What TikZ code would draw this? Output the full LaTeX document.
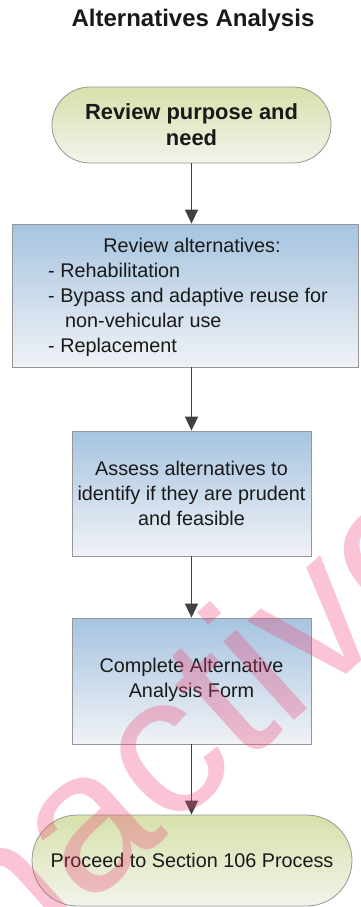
\documentclass[tikz,border=0pt]{standalone}
\usepackage{fontspec}
\setmainfont{Liberation Sans}
\usetikzlibrary{arrows.meta,shapes.misc}
\definecolor{bordergray}{RGB}{150,150,150}
\definecolor{arrowgray}{RGB}{64,64,64}
\definecolor{termtop}{RGB}{214,225,170}
\definecolor{termbot}{RGB}{242,244,236}
\definecolor{boxtop}{RGB}{166,196,224}
\definecolor{boxbot}{RGB}{240,242,246}
\definecolor{txt}{RGB}{25,25,25}
\definecolor{wmark}{RGB}{240,70,120}
\begin{document}
\begin{tikzpicture}[x=1pt,y=-1pt,
  every node/.style={text=txt,inner sep=0pt},
  term/.style={rounded rectangle,draw=bordergray,line width=0.8pt,top color=termtop,bottom color=termbot},
  procbox/.style={rectangle,draw=bordergray,line width=0.8pt,top color=boxtop,bottom color=boxbot},
  body/.style={font=\fontsize{19.8}{25}\selectfont},
  flow/.style={draw=arrowgray,line width=1.6pt,-{Triangle[width=13pt,length=14pt]}}
]
\useasboundingbox (0,0) rectangle (360,907);
\node (title) at (193,20) {\fontsize{24}{28}\selectfont\bfseries Alternatives Analysis};

\node[term,minimum width=279pt,minimum height=76pt] (start) at (191.5,125) {};
\node[align=center,font=\fontsize{21.9}{26}\selectfont\bfseries] (starttext) at (start.center) {Review purpose and\\need};

\node[procbox,minimum width=346pt,minimum height=143pt] (review) at (185,295.5) {};
\node[body,anchor=base] (reviewhead) at (192,252) {Review alternatives:};
\node[body,anchor=base west,align=left] (reviewlist) at (48,352) {- Rehabilitation\\- Bypass and adaptive reuse for\\\hspace{17pt}non-vehicular use\\- Replacement};

\node[procbox,minimum width=239pt,minimum height=125pt] (assess) at (191.5,493.5) {};
\node[body,align=center] (assesstext) at (assess.center) {Assess alternatives to\\identify if they are prudent\\and feasible};

\node[procbox,minimum width=239pt,minimum height=126pt] (form) at (191.5,681) {};
\node[body,align=center] (formtext) at (191.5,680) {Complete Alternative\\Analysis Form};

\node[term,minimum width=320pt,minimum height=91pt] (proceed) at (192,860.5) {};
\node[body] (proceedtext) at (proceed.center) {Proceed to Section 106 Process};

\draw[flow] (start.south) -- (review.north -| start.south);
\draw[flow] (review.south -| start.south) -- (assess.north);
\draw[flow] (assess.south) -- (form.north);
\draw[flow] (form.south) -- (proceed.north -| form.south);

\begin{scope}
\clip (0,0) rectangle (360,907);
\node[rotate=42,anchor=base west,text=wmark,opacity=0.32,font=\fontsize{200}{200}\selectfont] (watermark) at (-38,1020) {Inactive};
\end{scope}
\end{tikzpicture}
\end{document}
